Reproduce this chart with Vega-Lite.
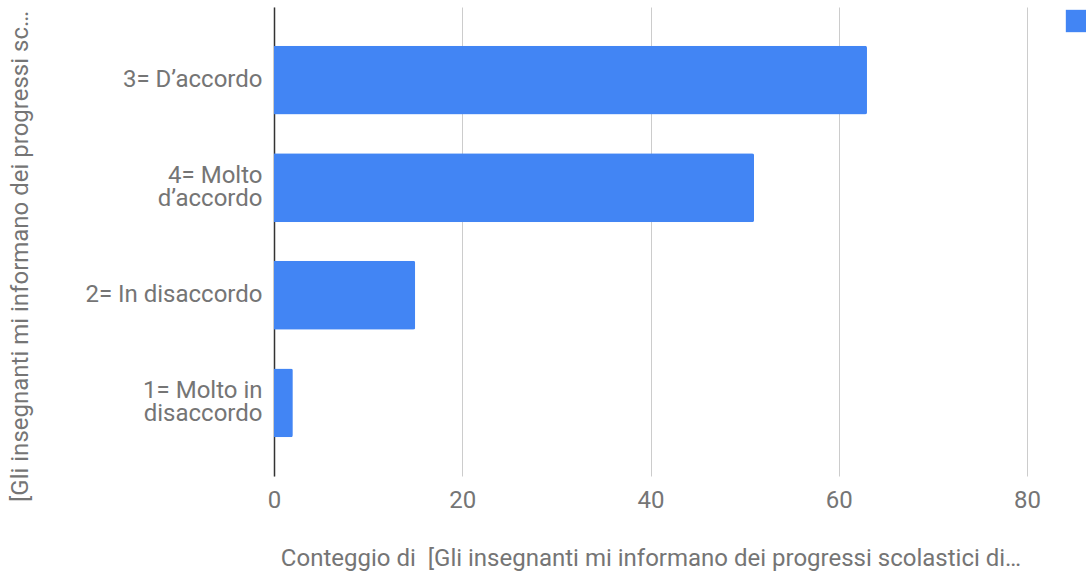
{
  "$schema": "https://vega.github.io/schema/vega-lite/v6.json",
  "autosize": "none",
  "padding": {"left": 274, "top": 7, "right": 59, "bottom": 98},
  "width": 753,
  "height": 469,
  "background": "white",
  "config": {
    "font": "Roboto",
    "view": {"stroke": null}
  },
  "data": {
    "values": [
      {"risposta": "3= D’accordo", "conteggio": 63, "serie": "Conteggio di  [Gli insegnanti mi informano dei progressi scolastici di..."},
      {"risposta": "4= Molto d’accordo", "conteggio": 51, "serie": "Conteggio di  [Gli insegnanti mi informano dei progressi scolastici di..."},
      {"risposta": "2= In disaccordo", "conteggio": 15, "serie": "Conteggio di  [Gli insegnanti mi informano dei progressi scolastici di..."},
      {"risposta": "1= Molto in disaccordo", "conteggio": 2, "serie": "Conteggio di  [Gli insegnanti mi informano dei progressi scolastici di..."}
    ]
  },
  "layer": [
    {
      "mark": {"type": "bar", "color": "#4285f4", "cornerRadiusEnd": 2},
      "encoding": {
        "y": {
          "field": "risposta",
          "type": "nominal",
          "sort": null,
          "scale": {"paddingInner": 0.36, "paddingOuter": 0.36},
          "axis": {
            "title": "[Gli insegnanti mi informano dei progressi sc…",
            "titleFont": "Roboto",
            "titleFontSize": 24,
            "titleFontWeight": "normal",
            "titleColor": "#757575",
            "titleAngle": -90,
            "titleAlign": "center",
            "titleBaseline": "middle",
            "titleX": -254,
            "titleY": 249,
            "labelFont": "Roboto",
            "labelFontSize": 24,
            "labelColor": "#757575",
            "labelPadding": 12,
            "labelLineHeight": 23,
            "labelLimit": 300,
            "labelOffset": {
              "condition": {
                "test": "datum.value == '4= Molto d’accordo' || datum.value == '1= Molto in disaccordo'",
                "value": -11.5
              },
              "value": 0
            },
            "labelExpr": "datum.value == '4= Molto d’accordo' ? ['4= Molto', 'd’accordo'] : datum.value == '1= Molto in disaccordo' ? ['1= Molto in', 'disaccordo'] : datum.value",
            "ticks": false,
            "domain": true,
            "domainColor": "#333333",
            "domainWidth": 1.5,
            "grid": false
          }
        },
        "x": {
          "field": "conteggio",
          "type": "quantitative",
          "scale": {"domain": [0, 80], "nice": false},
          "axis": {
            "values": [0, 20, 40, 60, 80],
            "title": "Conteggio di \u00a0[Gli insegnanti mi informano dei progressi scolastici di…",
            "titleFont": "Roboto",
            "titleFontSize": 24,
            "titleFontWeight": "normal",
            "titleColor": "#757575",
            "titlePadding": 34,
            "labelFont": "Roboto",
            "labelFontSize": 24,
            "labelColor": "#757575",
            "labelPadding": 12,
            "labelFlush": false,
            "ticks": false,
            "domain": false,
            "grid": true,
            "gridColor": "#cccccc",
            "gridWidth": 1
          }
        },
        "color": {
          "field": "serie",
          "type": "nominal",
          "scale": {"range": ["#4285f4"]},
          "legend": {
            "title": null,
            "orient": "none",
            "legendX": 791,
            "legendY": 2,
            "symbolType": "square",
            "symbolSize": 500,
            "symbolStrokeWidth": 0,
            "labelFontSize": 24,
            "labelColor": "#222222",
            "labelLimit": 1000
          }
        }
      }
    }
  ]
}
